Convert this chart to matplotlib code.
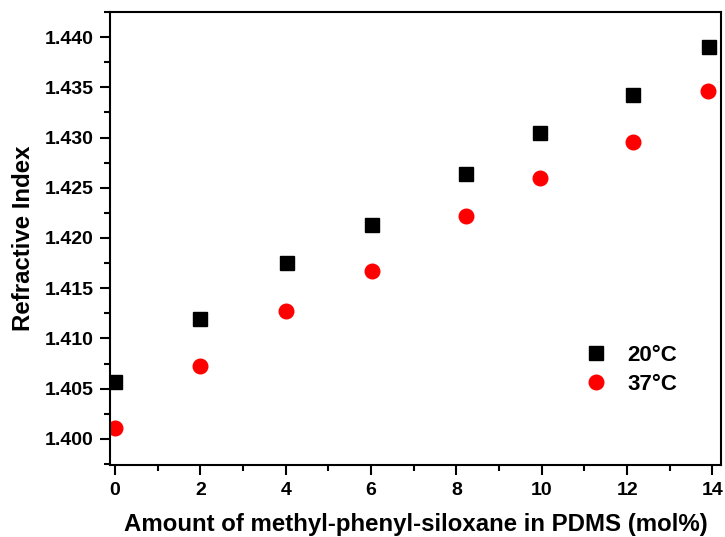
import matplotlib
matplotlib.use("Agg")
import matplotlib.pyplot as plt
from matplotlib.ticker import MultipleLocator

plt.rcParams['font.family'] = ['Liberation Sans', 'DejaVu Sans']
plt.rcParams['font.weight'] = 'bold'

# amount of methyl-phenyl-siloxane (mol%) and refractive index
x_20 = [0.0, 2.0, 4.03, 6.03, 8.23, 9.96, 12.14, 13.93]
n_20 = [1.4057, 1.4119, 1.4175, 1.4213, 1.4264, 1.4305, 1.4342, 1.4390]
x_37 = [0.0, 2.0, 4.0, 6.03, 8.23, 9.96, 12.14, 13.9]
n_37 = [1.4011, 1.4073, 1.4127, 1.4167, 1.4222, 1.4260, 1.4296, 1.4346]

fig = plt.figure(figsize=(7.25, 5.37), dpi=100)
ax = fig.add_axes([110 / 725, 72 / 537, 611 / 725, 453 / 537])

ax.plot(x_20, n_20, ls='none', marker='s', ms=9.5, color='black', label='20°C')
ax.plot(x_37, n_37, ls='none', marker='o', ms=10.5, color='#ff0000', label='37°C')

ax.set_xlim(-0.12, 14.2)
ax.set_ylim(1.3974, 1.4425)
ax.xaxis.set_major_locator(MultipleLocator(2))
ax.xaxis.set_minor_locator(MultipleLocator(1))
ax.yaxis.set_major_locator(MultipleLocator(0.005))
ax.yaxis.set_minor_locator(MultipleLocator(0.0025))
ax.yaxis.set_major_formatter(plt.FormatStrFormatter('%.3f'))

for s in ax.spines.values():
    s.set_linewidth(1.5)
ax.tick_params(which='both', direction='out', width=1.5, labelsize=14, top=False, right=False)
ax.tick_params(which='major', length=7, pad=5)
ax.tick_params(which='minor', length=4)

ax.set_xlabel('Amount of methyl-phenyl-siloxane in PDMS (mol%)', fontsize=17.3, fontweight='bold', labelpad=10)
ax.set_ylabel('Refractive Index', fontsize=17.3, fontweight='bold', labelpad=7)

ax.legend(loc='upper left', bbox_to_anchor=(0.745, 0.309), frameon=False, fontsize=16,
          handletextpad=0.9, labelspacing=0.36, handlelength=1.0)

fig.savefig('out.png', dpi=100)
